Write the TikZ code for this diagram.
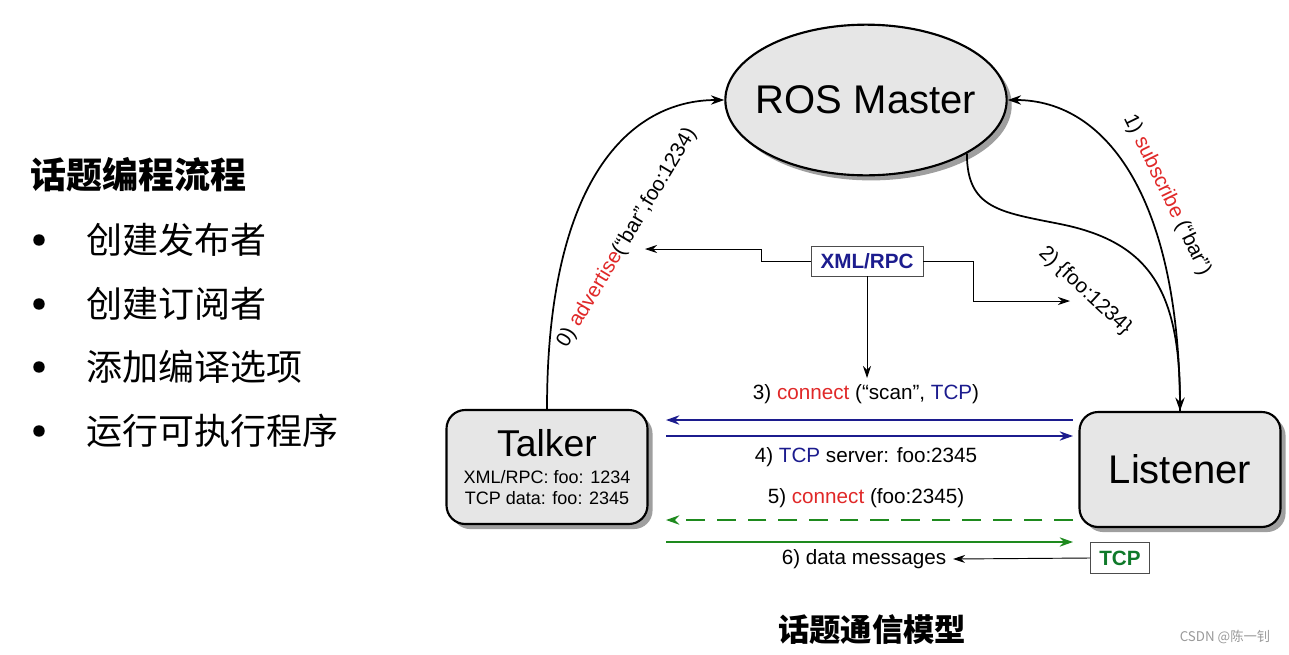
\documentclass[tikz,border=0pt]{standalone}
\usepackage{fontspec}
\setmainfont{Liberation Sans}
\newfontfamily\cjk{Noto Sans CJK SC}
\usetikzlibrary{arrows.meta,shapes.geometric,shadows}

\definecolor{rosred}{HTML}{E02828}
\definecolor{rosnavy}{HTML}{1C1C8E}
\definecolor{rosgreen}{HTML}{1E8A1E}
\definecolor{tcpgreen}{HTML}{0F7A2A}
\definecolor{rosfill}{HTML}{E6E6E6}

\tikzset{
  ros/.style={draw=black, line width=1.6pt, fill=rosfill,
    drop shadow={shadow xshift=3.8pt, shadow yshift=-3.8pt, fill=gray!75, opacity=1}},
  master/.style={ros, ellipse, minimum width=211pt, minimum height=113pt, inner xsep=-9pt, inner ysep=0pt},
  agent/.style={ros, rounded corners=14pt, minimum width=150.75pt, align=center, inner sep=0pt},
  tag/.style={draw=gray!60!black, fill=white, line width=0.6pt, inner sep=0pt,
    font=\bfseries\fontsize{15.5}{18}\selectfont},
  lbl/.style={font=\fontsize{15.5}{18}\selectfont, inner sep=1pt},
  flow/.style={line width=1.3pt, -{Stealth[length=10pt,width=7pt]}},
  wire/.style={line width=0.7pt, -{Stealth[length=9pt,width=6pt]}},
  cjktext/.style={font=\cjk\fontsize{27}{30}\selectfont, anchor=west, inner sep=0pt}
}

\begin{document}
\begin{tikzpicture}[x=0.75pt, y=-0.75pt]
  \useasboundingbox (0,0) rectangle (1289,654);
  % Left column: outline of the steps
  \node[cjktext, font=\cjk\bfseries\fontsize{27}{30}\selectfont] (title) at (30,175) {话题编程流程};
  \foreach \n/\y/\t in {1/240/创建发布者, 2/304/创建订阅者, 3/367/添加编译选项, 4/431/运行可执行程序}{
    \fill (39,\y) circle[radius=4.3pt];
    \node[cjktext] (step\n) at (86,\y) {\t};}

  % The three ROS nodes
  \node[master] (master) at (866,100) {\fontsize{30}{34}\selectfont ROS Master};
  \node[agent, minimum height=85.5pt, font=\fontsize{13.5}{15.75}\selectfont] (talker) at (547,467)
    {{\fontsize{28}{28}\selectfont Talker}\\[4pt]
     XML/RPC: foo: 1234\\ TCP data: foo: 2345};
  \node[agent, minimum height=86.25pt] (listener) at (1180,469.5)
    {\fontsize{30}{34}\selectfont Listener};

  % Registration with the master
  \draw[flow] (talker.north) .. controls +(0,-230) and +(-94,0) .. (master.west);
  \node[lbl, rotate=59] (adv) at (627,238)
    {0) \textcolor{rosred}{advertise}(“bar”,foo:1234)};
  \draw[flow] (listener.north) .. controls +(0,-210) and +(100,0) .. (master.east);
  \node[lbl, rotate=-64] (sub) at (1167,195)
    {1) \textcolor{rosred}{subscribe} (“bar”)};
  \coordinate (bend) at (1060,224);
  \draw[flow] (master.-28) .. controls +(0,55) and (1000,212) .. (bend)
    .. controls (1150,242) and +(0,-120) .. (listener.north);
  \node[lbl, rotate=-43] (reply) at (1085,291) {2) \{foo:1234\}};

  % XML/RPC side channel
  \node[tag, text=rosnavy, minimum width=84pt, minimum height=22.5pt] (rpc) at (867,261) {XML/RPC};
  \coordinate (rpcl) at (645,249);
  \coordinate (rpcr) at (1070,301);
  \coordinate (rpcd) at (867,378);
  \draw[wire] (rpc.west) -- ++(-49,0) |- (rpcl);
  \draw[wire] (rpc.east) -- ++(50,0) |- (rpcr);
  \draw[wire] (rpc.south) -- (rpcd);

  % Peer to peer messages
  \foreach \n/\y in {a/420, b/436, c/520, d/542}{
    \coordinate (L\n) at (666,\y);
    \coordinate (R\n) at (1073,\y);}
  \draw[flow, rosnavy] (Ra) -- (La);
  \draw[flow, rosnavy] (Lb) -- (Rb);
  \draw[flow, rosgreen, dash pattern=on 14pt off 9pt] (Rc) -- (Lc);
  \draw[flow, rosgreen] (Ld) -- (Rd);
  \node[lbl] (c3) at (866,394) {3) \textcolor{rosred}{connect} (“scan”, \textcolor{rosnavy}{TCP})};
  \node[lbl] (c4) at (866,457) {4) \textcolor{rosnavy}{TCP} server: foo:2345};
  \node[lbl] (c5) at (866,498) {5) \textcolor{rosred}{connect} (foo:2345)};
  \node[lbl] (c6) at (864,559) {6) data messages};
  \node[tag, text=tcpgreen, minimum width=44.25pt, minimum height=23.25pt] (tcp) at (1120,558) {TCP};
  \draw[wire] (tcp.west) -- ([xshift=4pt]c6.east);

  % Caption and watermark
  \node[font=\cjk\bfseries\fontsize{23.5}{26}\selectfont, inner sep=0pt] (caption) at (872,630) {话题通信模型};
  \node[font=\cjk\fontsize{10}{12}\selectfont, text=gray!80, inner sep=0pt] (mark) at (1225,637) {CSDN @陈一钊};
\end{tikzpicture}
\end{document}
